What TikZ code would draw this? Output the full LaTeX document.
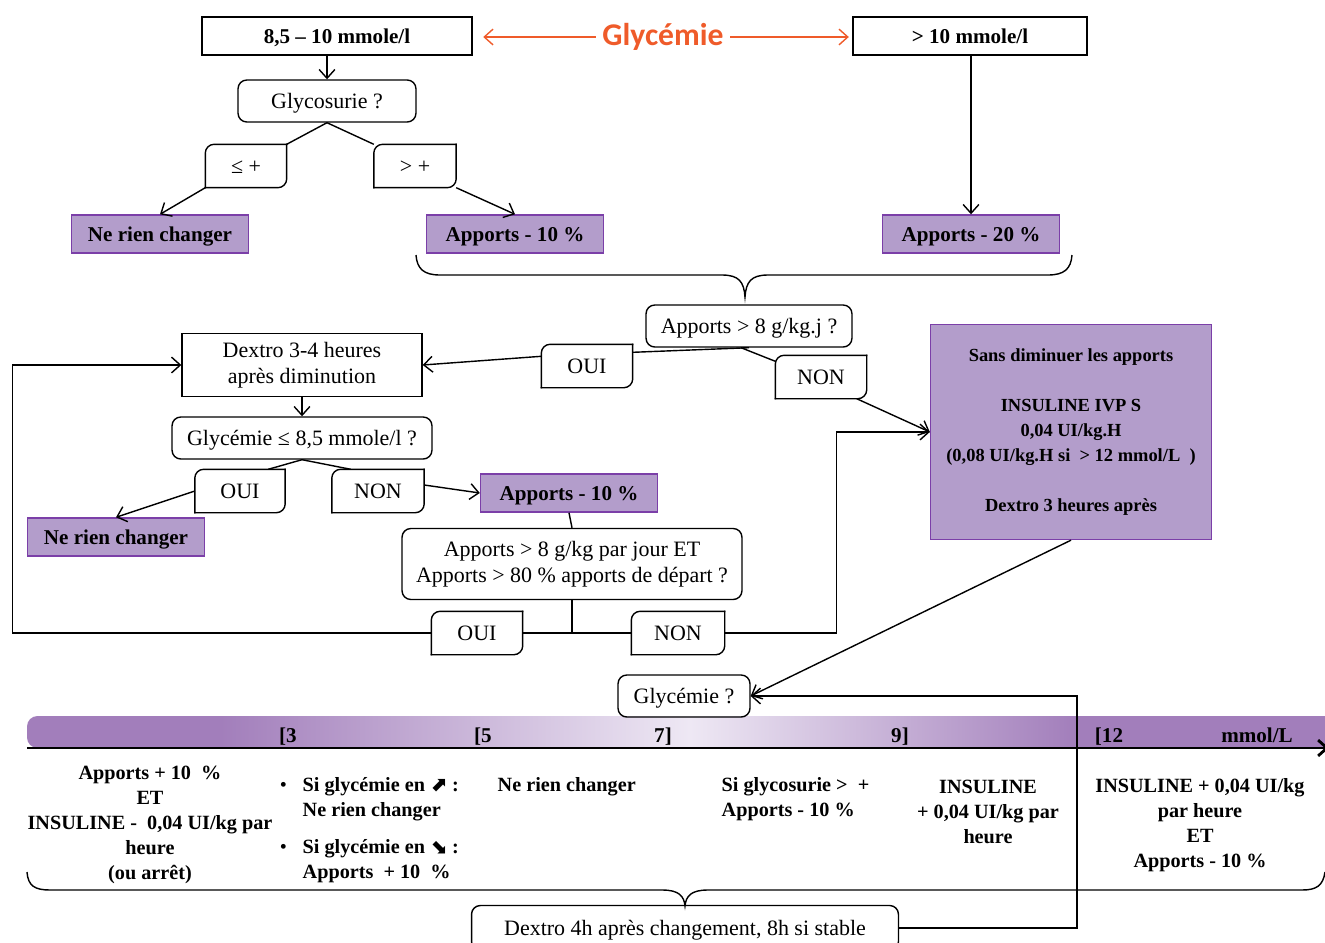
\documentclass[tikz,border=0pt]{standalone}
\usepackage{fontspec}
\setmainfont{Liberation Serif}
\newfontfamily\glycfont{Carlito}
\newfontfamily\fleches{DejaVu Sans}
\usepackage{tikz}
\usetikzlibrary{calc,positioning,arrows.meta}
\definecolor{orangeglyc}{HTML}{EF5B2A}
\definecolor{mauve}{HTML}{B39DCB}
\definecolor{mauvetrait}{HTML}{7B3FA8}
\definecolor{barre}{HTML}{A27EBB}
\definecolor{barreclaire}{HTML}{EEE8F4}

\tikzset{
	ligne/.style={text height=9.5pt, text depth=1.5pt},
	seuil/.style={draw, ligne, minimum height=0.76cm, font=\bfseries\fontsize{12}{14}\selectfont},
	action/.style={draw=mauvetrait, fill=mauve, ligne, minimum width=3.54cm, minimum height=0.76cm, font=\bfseries\fontsize{12}{14}\selectfont},
	question/.style={draw, rounded corners=5pt, ligne, minimum height=0.84cm, align=center, font=\fontsize{12.5}{15}\selectfont},
	reponse/.style={ligne, minimum width=1.8cm, minimum height=0.84cm, font=\fontsize{12.5}{15}\selectfont},
	consigne/.style={align=center, inner sep=0pt, font=\bfseries\fontsize{11.5}{14.3}\selectfont},
}

\begin{document}
\begin{tikzpicture}[x=0.02cm, y=-0.02cm, line width=0.8pt, >={Straight Barb[length=5pt,width=9pt]}]
	\useasboundingbox (0,0) rectangle (1325,943);

	% glycemie thresholds
	\node[seuil, minimum width=5.4cm] (s1) at (337,36) {8,5 – 10 mmole/l};
	\node[seuil, minimum width=4.68cm] (s2) at (970,36) {> 10 mmole/l};
	\node[font=\glycfont\bfseries\fontsize{18}{20}\selectfont, text=orangeglyc] (glyc) at (663,37) {Glycémie};
	\draw[->, orangeglyc, shorten >=6pt] (glyc) -- (s1.east |- glyc);
	\draw[->, orangeglyc, shorten >=2pt] (glyc) -- (s2.west |- glyc);

	% 8,5 - 10 branch
	\node[question, minimum width=3.56cm] (glyu) at (327,101) {Glycosurie ?};
	\node[reponse, minimum width=1.6cm] (le) at (246,166) {≤ +};
	\node[reponse, minimum width=1.62cm] (gt) at (415,166) {> +};
	\node[action] (nrc1) at (160,234) {Ne rien changer};
	\node[action] (am10a) at (515,234) {Apports - 10 \%};
	\node[action] (am20) at (971,234) {Apports - 20 \%};
	\draw[->] (s1.south -| glyu.north) -- (glyu.north);
	\draw (glyu.south) -- (le.north east);
	\draw (glyu.south) -- (gt.north west);
	\draw[->] (le.south west) -- (nrc1.north);
	\draw[->] (gt.south east) -- (am10a.north);
	\draw[->] (s2.south -| am20.north) -- (am20.north);

	% accolade
	\draw (416,255) .. controls (417,269) and (424,275) .. (440,275) -- (722,275)
		.. controls (739,275) and (744,282) .. (745,297)
		.. controls (746,282) and (751,275) .. (768,275) -- (1048,275)
		.. controls (1064,275) and (1071,269) .. (1072,255);

	% apports > 8 g/kg.j
	\node[question, minimum width=4.12cm] (q8) at (749,326) {Apports > 8 g/kg.j ?};
	\node[reponse] (oui1) at (587,366) {OUI};
	\node[reponse] (non1) at (821,377) {NON};
	\node[seuil, text height=, text depth=, minimum width=4.8cm, minimum height=1.26cm, align=center, font=\fontsize{12.5}{15}\selectfont] (dex) at (302,365) {Dextro 3-4 heures\\après diminution};
	\node[action, text height=, text depth=, minimum width=5.62cm, minimum height=4.3cm, align=center, font=\bfseries\fontsize{10.5}{14.2}\selectfont] (sans) at (1071,432)
		{Sans diminuer les apports\\[14.2pt]INSULINE IVP S\\0,04 UI/kg.H\\(0,08 UI/kg.H si~ > 12 mmol/L~~)\\[14.2pt]Dextro 3 heures après};
	\draw (q8.south) -- ($(oui1.north east)+(0,8)$);
	\draw[->] ($(oui1.north west)+(0,12)$) -- (dex.east);
	\draw ($(q8.south)+(-8,0)$) -- ($(non1.north west)+(0,6)$);
	\draw[->] ($(non1.south east)+(-10,0)$) -- (sans.west);

	% glycemie <= 8,5
	\node[question, minimum width=5.2cm] (q85) at (302,438) {Glycémie ≤ 8,5 mmole/l ?};
	\node[reponse, minimum width=1.78cm] (oui2) at (240,491) {OUI};
	\node[reponse, minimum width=1.82cm] (non2) at (378,491) {NON};
	\node[action] (nrc2) at (116,537) {Ne rien changer};
	\node[action] (am10b) at (569,493) {Apports - 10 \%};
	\draw[->] (dex.south) -- (q85.north);
	\draw (q85.south) -- ($(oui2.north east)+(-17,0)$);
	\draw (q85.south) -- ($(non2.north west)+(19,0)$);
	\draw[->] (oui2.west) -- (nrc2.north);
	\draw[->] ($(non2.east)+(0,-6)$) -- (am10b.west);

	% apports > 80 %
	\node[question, text height=, text depth=, minimum width=6.8cm, minimum height=1.42cm] (q80) at (572,564) {Apports > 8 g/kg par jour ET\\Apports > 80 \% apports de départ ?};
	\node[reponse] (oui3) at (477,633) {OUI};
	\node[reponse, minimum width=1.84cm] (non3) at (678,633) {NON};
	\draw (am10b.south) -- (q80.north);
	\coordinate (j) at (q80.south |- oui3.east);
	\draw (q80.south) -- (j);
	\draw (oui3.east) -- (non3.west);
	\draw[->] (oui3.west) -- ++(-419,0) |- (dex.west);
	\draw[->] (non3.east) -- ++(112,0) |- (sans.west);

	% boites a coins arrondis en diagonale
	\foreach \n in {le,gt,oui1,non1,oui2,non2,oui3,non3} {
		\draw[rounded corners=5pt, line cap=rect] (\n.south west) -- (\n.north west) -- (\n.north east);
		\draw[rounded corners=5pt, line cap=rect] (\n.north east) -- (\n.south east) -- (\n.south west);
	}

	% echelle des glycemies
	\fill[barre, rounded corners=6pt] (27,748) rectangle (300,716);
	\shade[left color=barre, right color=barreclaire] (220,716) rectangle (690,748);
	\shade[left color=barreclaire, right color=barre] (690,716) rectangle (1076,748);
	\fill[barre] (1076,716) rectangle (1325,748);
	\foreach \x/\t/\n in {288/{[3}/b3, 483/{[5}/b5, 663/{7]}/b7, 900/{9]}/b9, 1109/{[12}/b12, 1257/{mmol/L}/unite}
		\node[anchor=base, font=\bfseries\fontsize{12}{14}\selectfont] (\n) at (\x,742) {\t};
	\draw[->, line width=1.6pt] (27,748) -- (1329,748);

	\node[question, minimum width=2.64cm] (gq) at (684,696) {Glycémie ?};
	\draw[->] (sans.south) -- (gq.east);

	% consignes
	\node[consigne] (c1) at (150,825) {Apports + 10~~\%\\ET\\INSULINE -~~0,04 UI/kg par\\heure\\(ou arrêt)};
	\node[consigne, align=left, anchor=west] (c2a) at (302,799) {\llap{\mdseries\textbullet\hspace{9pt}}Si glycémie en {\fleches ⬈} :\\Ne rien changer};
	\node[consigne, align=left, anchor=west] (c2b) at (302,861) {\llap{\mdseries\textbullet\hspace{9pt}}Si glycémie en {\fleches ⬊} :\\Apports~ + 10~~\%};
	\node[consigne, anchor=base west] (c3) at (497,791) {Ne rien changer};
	\node[consigne, align=left, anchor=west] (c4) at (721,799) {Si glycosurie >~~+\\Apports - 10 \%};
	\node[consigne] (c5) at (988,812) {INSULINE\\+ 0,04 UI/kg par\\heure};
	\node[consigne] (c6) at (1200,825) {INSULINE + 0,04 UI/kg\\par heure\\ET\\Apports - 10 \%};

	\draw (27,872) .. controls (28,886) and (35,890) .. (50,890) -- (662,890)
		.. controls (679,890) and (684,896) .. (685,906)
		.. controls (686,896) and (691,890) .. (708,890) -- (1302,890)
		.. controls (1316,890) and (1323,886) .. (1325,872);

	\node[question, minimum width=8.54cm, minimum height=0.9cm] (dex4) at (685,928) {Dextro 4h après changement, 8h si stable};
	\draw[->] (dex4.east) -- ++(178,0) |- (gq.east);
\end{tikzpicture}
\end{document}
